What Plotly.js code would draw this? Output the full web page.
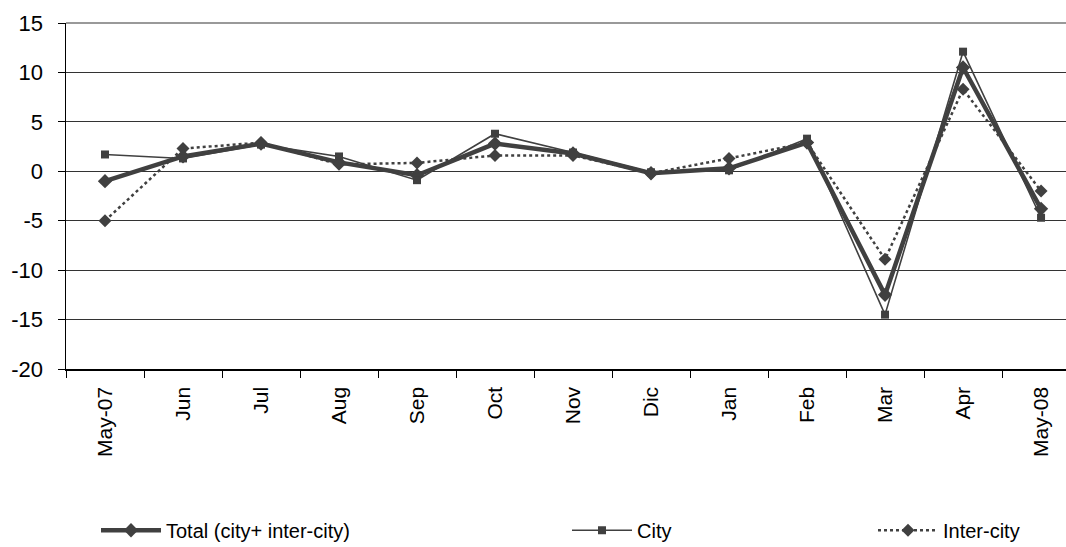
<!DOCTYPE html>
<html>
<head>
<meta charset="utf-8">
<script src="https://cdn.plot.ly/plotly-3.0.1.min.js"></script>
<style>html,body{margin:0;padding:0;background:#fff;}#chart{width:1066px;height:547px;}</style>
</head>
<body>
<div id="chart"></div>
<script>
const months = ["May-07","Jun","Jul","Aug","Sep","Oct","Nov","Dic","Jan","Feb","Mar","Apr","May-08"];
const total = [-1.0, 1.5, 2.8, 0.9, -0.4, 2.8, 1.8, -0.2, 0.3, 2.9, -12.5, 10.5, -3.8];
const city = [1.7, 1.3, 2.7, 1.5, -0.9, 3.8, 1.9, -0.1, 0.1, 3.3, -14.5, 12.1, -4.7];
const interCity = [-5.0, 2.3, 2.9, 0.7, 0.85, 1.6, 1.6, -0.2, 1.3, 2.9, -8.9, 8.3, -2.0];
const yTicks = [-20, -15, -10, -5, 0, 5, 10, 15];

const col = '#404040';
const font = 'Liberation Sans, Arial, sans-serif';

const traces = [
  {x: months, y: total, name: 'Total (city+ inter-city)', type: 'scatter', mode: 'lines+markers',
   line: {color: col, width: 4.5}, marker: {symbol: 'diamond', size: 11, color: col}, legend: 'legend'},
  {x: months, y: city, name: 'City', type: 'scatter', mode: 'lines+markers',
   line: {color: col, width: 1.6}, marker: {symbol: 'square', size: 8, color: col}, legend: 'legend2'},
  {x: months, y: interCity, name: 'Inter-city', type: 'scatter', mode: 'lines+markers',
   line: {color: col, width: 2.5, dash: 'dot'}, marker: {symbol: 'diamond', size: 10, color: col}, legend: 'legend3'}
];

const legBase = {orientation: 'h', yanchor: 'middle', y: -0.466, xanchor: 'left',
  font: {family: font, size: 20, color: '#000'}, bgcolor: 'rgba(0,0,0,0)', itemwidth: 60};

const layout = {
  width: 1066, height: 547,
  margin: {l: 66, r: 0, t: 23, b: 178, autoexpand: false},
  paper_bgcolor: '#fff', plot_bgcolor: '#fff',
  showlegend: true,
  font: {family: font, size: 21, color: '#000'},
  xaxis: {
    type: 'category', range: [-0.5, 12.32], tickangle: -90,
    tickson: 'boundaries', ticks: 'outside', ticklen: 7, tickcolor: '#000',
    ticklabelstandoff: 8,
    showline: true, linecolor: '#000', linewidth: 1.5, showgrid: false, zeroline: false,
    tickfont: {family: font, size: 21, color: '#000'}
  },
  yaxis: {
    range: [-20, 15], tickvals: yTicks, ticktext: yTicks.map(String),
    ticks: 'outside', ticklen: 7, tickcolor: '#000',
    ticklabelstandoff: 10,
    showline: true, linecolor: '#000', linewidth: 1.5,
    showgrid: true, gridcolor: '#333', gridwidth: 1, zeroline: false,
    tickfont: {family: font, size: 22, color: '#000'}
  },
  shapes: [{type: 'line', xref: 'paper', yref: 'paper', x0: 0, x1: 1, y0: 1, y1: 1,
            line: {color: '#999', width: 2}}],
  legend: Object.assign({}, legBase, {x: 0.030}),
  legend2: Object.assign({}, legBase, {x: 0.501}),
  legend3: Object.assign({}, legBase, {x: 0.807})
};

Plotly.newPlot('chart', traces, layout, {displayModeBar: false, staticPlot: true});
</script>
</body>
</html>
